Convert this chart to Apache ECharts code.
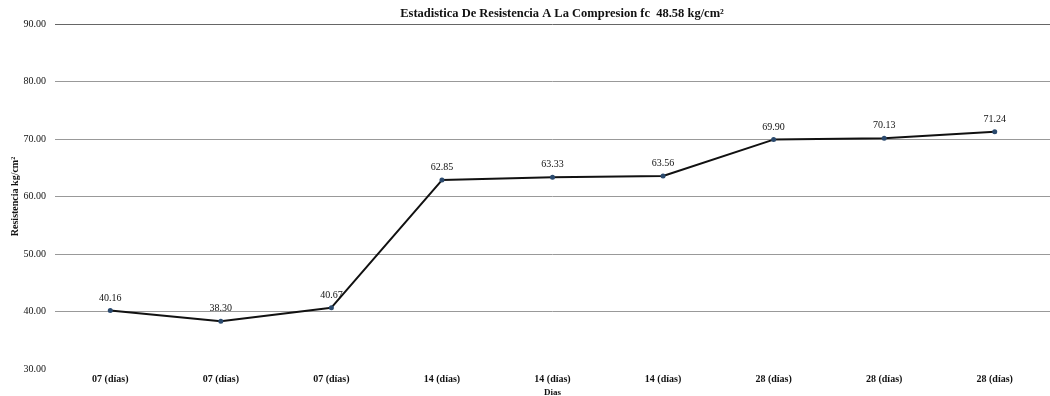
<!DOCTYPE html>
<html>
<head>
<meta charset="utf-8">
<script src="https://cdn.jsdelivr.net/npm/echarts@6/dist/echarts.min.js"></script>
<style>
html, body { margin: 0; padding: 0; background: #fff; }
#chart { width: 1050px; height: 396px; }
</style>
</head>
<body>
<div id="chart"></div>
<script>
// Test ages (days) for each specimen
const categories = ['07 (días)', '07 (días)', '07 (días)', '14 (días)', '14 (días)', '14 (días)', '28 (días)', '28 (días)', '28 (días)'];
// Compressive strength results, kg/cm²
const resistencia = [40.16, 38.30, 40.67, 62.85, 63.33, 63.56, 69.90, 70.13, 71.24];
// Value axis range
const yMin = 30, yMax = 90, yStep = 10;

const serif = '"Liberation Serif", "DejaVu Serif", serif';
const chart = echarts.init(document.getElementById('chart'));
chart.setOption({
  backgroundColor: '#fff',
  animation: false,
  title: {
    text: 'Estadistica De Resistencia A La Compresion fc  48.58 kg/cm²',
    left: 557, top: 2, textAlign: 'center',
    textStyle: { fontFamily: serif, fontWeight: 'bold', fontSize: 12.5, color: '#111' }
  },
  grid: { left: 55, right: 0, top: 24, bottom: 27, outerBoundsMode: 'none', containLabel: false },
  xAxis: {
    type: 'category',
    data: categories,
    name: 'Dias',
    nameLocation: 'middle',
    nameGap: 19,
    nameMoveOverlap: false,
    nameTextStyle: { fontFamily: serif, fontWeight: 'bold', fontSize: 9, color: '#111' },
    axisLine: { show: false },
    axisTick: { show: false },
    axisLabel: { fontFamily: serif, fontWeight: 'bold', fontSize: 10, color: '#111', margin: 5 }
  },
  yAxis: {
    type: 'value',
    min: yMin, max: yMax, interval: yStep,
    name: 'Resistencia kg/cm²',
    nameLocation: 'middle',
    nameGap: 35,
    nameMoveOverlap: false,
    nameTextStyle: { fontFamily: serif, fontWeight: 'bold', fontSize: 10, color: '#111' },
    axisLine: { show: false },
    axisTick: { show: false },
    axisLabel: {
      fontFamily: serif, fontSize: 10, color: '#111', margin: 9,
      formatter: v => v.toFixed(2)
    },
    splitLine: {
      lineStyle: { color: ['rgba(0,0,0,0)', '#999', '#999', '#999', '#999', '#999', '#666'], width: 1 }
    }
  },
  series: [{
    type: 'line',
    data: resistencia,
    symbol: 'circle',
    symbolSize: 5,
    itemStyle: { color: '#2b4a6e' },
    lineStyle: { color: '#111', width: 2 },
    label: {
      show: true, position: 'top', distance: 5,
      fontFamily: serif, fontSize: 10, color: '#111',
      formatter: p => p.value.toFixed(2)
    }
  }]
});
</script>
</body>
</html>
